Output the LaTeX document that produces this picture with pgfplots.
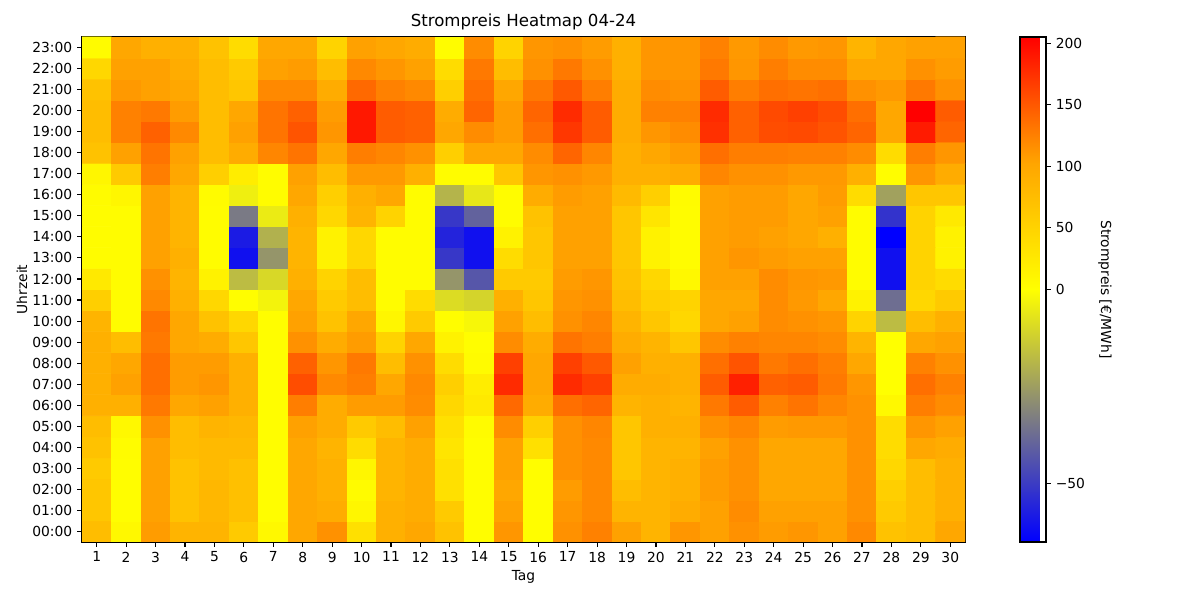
\documentclass[border=0pt]{standalone}
\usepackage{fontspec}
\setmainfont{DejaVu Sans}
\usepackage{pgfplots}
\usepackage{pgfplotstable}
\pgfplotsset{compat=1.18}

% Day-ahead prices in EUR/MWh: hour 00:00 for days 1 ... 30, then hour 01:00, ..., up to 23:00
\pgfplotstableread{
v
75
8
108
85
85
60
8
100
115
35
90
100
70
2
112
2
115
125
105
85
112
105
115
108
112
105
120
70
75
100
65
2
105
70
82
72
2
100
95
10
90
95
60
2
105
2
112
120
85
85
95
105
118
105
105
105
115
60
75
90
65
2
105
70
82
72
2
100
90
5
85
95
35
2
100
2
108
120
75
85
90
108
115
100
100
100
115
55
75
90
60
2
105
70
78
72
2
100
90
10
85
95
35
2
105
2
115
120
65
85
90
108
115
100
100
100
115
45
75
90
70
3
105
75
78
78
2
100
85
40
85
95
30
2
105
35
115
120
65
85
85
105
115
100
100
100
115
40
100
95
75
8
115
75
85
82
2
105
95
60
75
105
35
4
118
55
115
122
65
90
90
115
122
108
110
110
115
40
112
105
90
90
130
100
105
90
2
127
95
108
108
118
45
25
140
95
136
142
85
90
85
130
148
125
133
122
115
8
127
118
90
105
136
108
112
90
2
157
120
127
100
120
55
20
178
100
178
165
95
95
90
148
185
145
148
130
112
0
136
125
90
100
136
108
108
90
2
145
112
130
75
115
40
4
165
100
165
150
105
90
90
136
153
130
136
127
100
0
125
115
90
75
130
100
95
65
2
115
95
108
50
100
15
2
118
95
133
127
95
85
65
118
125
122
122
118
85
0
100
105
85
3
133
100
70
45
2
105
70
100
10
60
2
-2
105
75
115
122
85
65
45
100
105
118
115
112
50
-17
75
90
55
3
120
90
45
2
-3
100
60
75
3
40
-9
-11
90
65
112
115
75
55
50
100
100
118
110
100
15
-37
45
60
25
3
115
85
15
-17
-10
90
50
75
3
3
-27
-43
60
60
108
112
70
45
8
105
105
118
112
110
3
-61
50
40
3
3
105
90
3
-61
-27
85
15
45
3
3
-51
-61
40
65
105
105
65
15
3
105
112
108
105
105
3
-61
50
15
3
3
105
85
3
-58
-20
85
15
45
3
3
-56
-61
15
65
105
105
65
15
3
105
108
105
100
90
3
-65
50
15
3
3
105
85
3
-34
-5
90
45
85
50
3
-51
-40
3
70
105
105
65
30
3
105
108
108
100
105
3
-52
50
25
5
10
105
85
5
-4
3
100
55
90
100
3
-19
-6
3
95
108
105
78
55
4
105
108
108
100
108
40
-24
65
65
10
60
127
100
55
20
3
105
75
110
110
90
3
3
65
112
115
110
90
90
95
122
115
115
110
110
90
2
112
95
70
105
133
105
75
95
122
133
100
127
122
115
55
100
100
118
142
122
90
100
108
136
127
127
125
125
118
40
127
112
75
125
145
120
75
105
133
153
112
190
148
145
100
118
108
136
171
148
95
112
118
175
145
157
159
153
142
100
188
142
75
125
130
108
75
100
133
145
108
190
148
145
95
142
108
142
178
148
95
125
125
178
145
159
165
157
136
100
205
148
70
110
105
100
75
65
120
120
95
140
125
120
55
136
100
130
150
127
95
118
115
148
127
136
133
136
115
110
130
115
45
105
105
95
75
60
105
108
75
120
112
105
40
130
75
115
130
115
90
112
112
130
112
127
118
118
100
100
115
108
5
100
90
90
70
40
100
100
50
105
100
95
3
118
50
112
115
108
90
112
112
125
110
118
110
112
85
100
105
105
}\prices

\begin{document}
\begin{tikzpicture}
\path[use as bounding box] (-0.82in,-0.58in) rectangle (11.18in,5.42in);
\begin{axis}[
  at={(0,0)}, anchor=south west,
  scale only axis, width=8.83in, height=5.05in,
  xmin=0.5, xmax=30.5, ymin=-0.5, ymax=23.5,
  xtick={1,...,30}, ytick={0,...,23},
  yticklabels={00:00,01:00,02:00,03:00,04:00,05:00,06:00,07:00,08:00,09:00,10:00,11:00,12:00,13:00,14:00,15:00,16:00,17:00,18:00,19:00,20:00,21:00,22:00,23:00},
  tick pos=left, tick align=outside, major tick length=3.5pt,
  axis line style={line width=0.8pt},
  every tick/.style={black, line width=0.8pt},
  /pgf/number format/assume math mode=true,
  ticklabel style={font=\fontsize{10}{12}\selectfont},
  title={Strompreis Heatmap 04-24},
  every axis title/.style={at={(0.5,1)}, anchor=center, yshift=0.15in, font=\fontsize{12}{14}\selectfont},
  xlabel={Tag}, ylabel={Uhrzeit},
  every axis x label/.style={at={(0.5,0)}, anchor=center, yshift=-0.35in, font=\fontsize{10}{12}\selectfont},
  every axis y label/.style={at={(0,0.5)}, anchor=center, xshift=-0.60in, rotate=90, font=\fontsize{10}{12}\selectfont},
  colormap={strom}{rgb255(0cm)=(0,0,255) rgb255(2cm)=(255,255,0) rgb255(3cm)=(255,165,0) rgb255(4cm)=(255,0,0)},
  point meta min=0, point meta max=1,
  colorbar,
  colorbar style={
    at={(parent axis.north east)}, anchor=north west, xshift=0.432in,
    scale only axis, width=0.26in, height=5.05in,
    ytick={0.115385,0.5,0.621951,0.743902,0.865854,0.987805},
    yticklabels={−50,0,50,100,150,200},
    ytick pos=right, yticklabel pos=right,
    tick align=outside, major tick length=3.5pt,
    axis line style={line width=0.8pt},
    every tick/.style={black, line width=0.8pt},
    ticklabel style={font=\fontsize{10}{12}\selectfont},
    ylabel={Strompreis [€/MWh]},
    every axis y label/.style={at={(1,0.5)}, xshift=0.59in, rotate=-90, anchor=center, font=\fontsize{10}{12}\selectfont},
  },
]
% cell position from the row number: 30 days per hour; two-slope normalisation of the price:
% -65 .. 0 onto 0 .. 0.5, 0 .. 205 onto 0.5 .. 1
\addplot[matrix plot*, mesh/cols=30, point meta=explicit]
  table[x index=0, y index=0,
        x expr={\coordindex-30*floor((\coordindex+0.5)/30)+1},
        y expr={floor((\coordindex+0.5)/30)},
        meta expr={ifthenelse(\thisrow{v}<0, 0.5+0.5*\thisrow{v}/65, 0.5+0.5*\thisrow{v}/205)}] {\prices};
\end{axis}
\end{tikzpicture}
\end{document}
